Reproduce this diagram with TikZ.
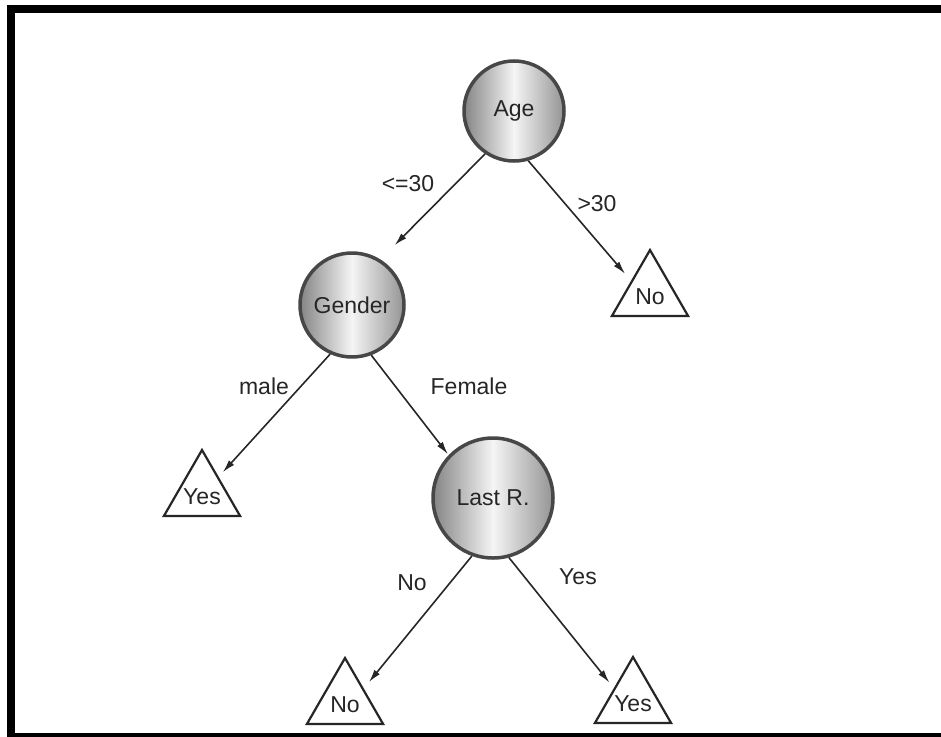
\documentclass[tikz,border=0pt]{standalone}
\usepackage{fontspec}
\setmainfont{Liberation Sans}
\usetikzlibrary{arrows.meta,shapes.geometric}
\begin{document}
\begin{tikzpicture}[x=1pt,y=-1pt,
  every node/.style={font=\fontsize{23}{28}\selectfont, text=black!85},
  split/.style={circle, draw=black!72, line width=3.5pt,
    left color=black!48, right color=black!42, middle color=black!4, inner sep=0pt},
  leaf/.style={regular polygon, regular polygon sides=3, draw=black!85,
    line width=2.2pt, minimum size=88pt, inner sep=0pt, fill=white,
    label={[yshift=-3pt, inner sep=0pt]center:#1}},
  branch/.style={-{Latex[length=13pt,width=7pt]}, line width=1.6pt, black!85},
  cond/.style={inner sep=0pt}]
\useasboundingbox (0,0) rectangle (941,736);
\clip (0,0) rectangle (941,736);
% frame
\draw[line width=8pt] (10.5,9) rectangle (960,737);

% decision nodes
\node[split, minimum size=100pt] (age)    at (514,111) {Age};
\node[split, minimum size=104pt] (gender) at (352,305) {Gender};
\node[split, minimum size=120pt] (last)   at (493,498) {Last R.};

% leaves
\node[leaf=No]  (no1)  at (650,294) {};
\node[leaf=Yes] (yes1) at (202,494) {};
\node[leaf=No]  (no2)  at (345,702) {};
\node[leaf=Yes] (yes2) at (633,701) {};

% branches
\draw[branch, shorten >=20pt] (age.236) -- (gender.58);
\draw[branch, shorten >=9pt]  (age.286) -- (no1.145);
\draw[branch, shorten >=6pt]  (gender.246) -- (yes1.46);
\draw[branch, shorten >=1pt]  (gender.291) -- (last.136);
\draw[branch, shorten >=8pt]  (last.250) -- (no2.36);
\draw[branch, shorten >=7pt]  (last.285) -- (yes2.146);

% branch conditions
\node[cond] (c1) at (408,184) {<=30};
\node[cond] (c2) at (597,204) {>30};
\node[cond] (c3) at (264,386) {male};
\node[cond] (c4) at (469,386) {Female};
\node[cond] (c5) at (412,583) {No};
\node[cond] (c6) at (578,577) {Yes};
\end{tikzpicture}
\end{document}
